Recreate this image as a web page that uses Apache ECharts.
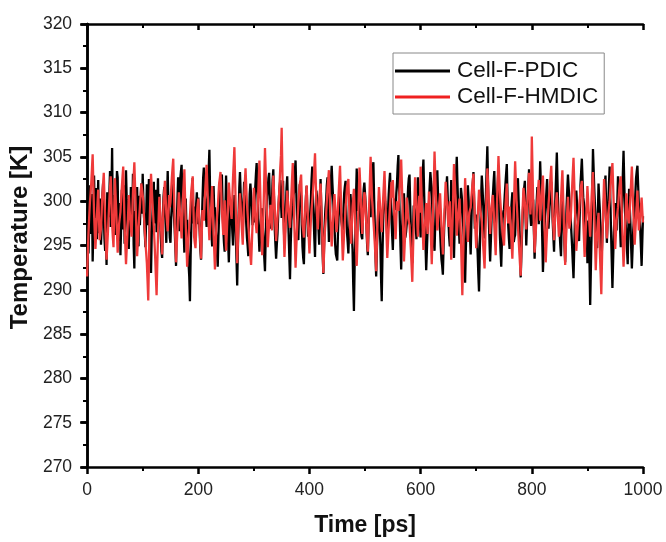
<!DOCTYPE html>
<html>
<head>
<meta charset="utf-8">
<script src="https://cdn.jsdelivr.net/npm/echarts@6/dist/echarts.min.js"></script>
<style>html,body{margin:0;padding:0;background:#fff;}#c{width:666px;height:542px;}</style>
</head>
<body>
<div id="c"></div>
<script>
const seriesNames = ['Cell-F-PDIC', 'Cell-F-HMDIC'];
const timeStep = 2.5; // ps between samples of the "A" arrays; "B" arrays sit half a step later
const xTicks = [0, 200, 400, 600, 800, 1000];
const yTicks = [270, 275, 280, 285, 290, 295, 300, 305, 310, 315, 320];

const pdicA = [
297.5,294.1,301.8,296.3,293.2,302.9,299.6,295.7,302.4,297.8,295.1,300.6,298.7,294.4,292.8,299.3,300.9,297.1,306.0,298.4,
296.2,300.4,302.7,297.5,293.9,301.3,299.1,295.2,303.5,298.8,294.6,297.0,300.2,303.1,292.4,296.8,301.6,294.9,297.3,302.0,
303.1,298.2,294.8,301.9,299.7,295.6,291.9,298.3,302.2,299.0,296.5,302.6,300.8,296.1,293.6,300.5,298.9,295.3,303.4,297.7,
295.3,299.6,301.2,296.9,292.7,300.1,299.8,302.5,304.1,297.6,294.2,300.3,297.9,293.0,288.7,297.2,302.6,299.4,296.1,301.0,
300.4,296.6,293.4,299.9,303.8,300.2,297.1,301.4,305.8,298.0,294.9,301.7,299.3,295.8,292.6,298.6,301.9,303.0,296.8,294.3,
302.9,297.9,293.1,300.0,298.4,295.0,300.7,296.2,290.5,298.1,303.3,299.5,296.4,302.2,299.9,295.9,293.8,300.8,302.1,297.3,
297.6,301.5,304.3,298.9,294.3,297.4,299.2,295.5,292.1,298.7,301.4,303.2,296.9,300.1,303.6,297.0,293.5,296.3,300.3,302.4,
298.1,302.3,294.7,299.0,302.8,296.4,291.2,297.8,299.5,301.1,304.6,298.5,295.6,301.9,300.6,294.8,292.9,298.8,301.7,296.0,
296.3,300.0,303.9,298.3,293.7,301.2,298.6,295.1,302.5,297.0,291.8,297.5,300.1,302.7,295.4,299.8,304.0,300.4,297.2,294.0,
293.3,298.5,301.1,297.7,296.7,300.9,302.3,296.5,294.1,298.2,299.4,294.6,287.6,296.0,303.7,298.9,300.5,296.8,295.7,301.3,
302.0,297.2,293.9,299.7,298.2,301.8,304.4,297.4,291.5,296.9,300.0,295.3,288.7,297.6,301.3,299.1,296.0,300.7,303.2,298.0,
294.5,300.3,299.0,302.1,305.2,297.9,292.3,298.4,300.9,295.9,297.4,301.6,303.0,296.6,293.0,299.5,298.8,295.7,302.7,299.2,
295.9,301.0,304.7,298.1,292.2,296.7,299.8,303.3,301.5,296.4,294.4,299.9,303.5,298.7,296.6,293.4,291.7,297.3,300.2,302.8,
297.8,294.9,302.4,298.6,293.6,300.6,305.0,299.3,295.2,301.5,299.6,296.0,290.8,297.1,301.8,298.4,294.0,300.5,303.3,296.9,
298.5,294.2,289.8,297.5,302.9,299.8,295.8,300.9,306.2,298.3,293.2,297.9,300.7,303.4,297.0,300.1,303.8,296.2,292.6,298.0,
299.1,301.9,304.2,297.3,294.6,298.6,301.0,295.4,296.2,300.8,302.6,297.7,291.4,296.5,300.4,302.3,295.0,299.4,303.6,298.2,
297.3,300.2,293.5,298.0,301.6,297.4,304.5,299.6,292.0,296.3,299.7,302.5,296.9,300.0,302.2,297.8,294.3,300.6,305.5,299.0,
296.5,293.8,300.8,297.2,293.1,299.4,303.0,300.3,298.0,294.9,291.3,297.6,301.2,298.5,295.5,301.8,304.8,300.4,299.2,295.6,
293.0,297.9,288.3,296.1,305.9,301.1,297.6,294.7,302.0,298.8,292.5,297.0,300.3,302.9,295.3,299.7,303.9,296.6,290.2,296.4,
299.8,296.7,302.8,299.3,294.8,300.2,305.7,298.9,296.4,292.9,301.4,297.2,292.4,296.8,299.0,302.6,304.0,299.6,297.0,292.7,
298.3
];
const pdicB = [
299.2,297.0,298.5,300.8,296.9,298.1,301.5,299.0,296.4,300.3,297.3,302.0,295.8,296.9,301.0,298.2,303.4,300.6,297.9,300.7,
298.9,303.4,295.5,299.8,297.2,296.8,301.8,297.6,300.2,296.2,299.4,301.6,297.8,295.1,298.9,299.5,296.3,300.6,299.9,298.6,
300.1,296.4,298.0,297.3,302.5,293.8,296.2,300.6,297.5,301.3,299.4,297.8,298.2,294.3,297.9,301.6,297.4,300.2,299.8,295.9,
298.1,302.4,298.3,294.8,297.1,302.7,296.6,303.3,300.4,296.5,298.0,296.9,295.4,291.5,293.9,300.8,297.5,298.2,299.7,297.4,
298.3,294.5,297.2,302.6,301.2,298.4,299.6,303.6,301.0,296.4,298.7,298.9,297.0,294.1,296.0,300.9,302.7,299.4,295.3,298.6,
299.7,295.3,296.4,299.3,296.6,298.2,298.9,293.4,294.7,301.5,300.9,297.8,299.7,301.1,297.5,295.0,297.6,302.0,299.4,299.0,
300.0,303.1,301.2,296.3,296.0,298.8,296.9,293.6,296.0,300.5,302.6,299.7,298.9,302.4,300.0,295.2,295.1,298.4,301.6,299.9,
300.6,297.9,297.3,301.5,299.5,293.7,295.0,298.8,300.7,303.3,301.2,297.0,299.2,301.0,297.3,293.6,296.3,300.6,298.5,296.8,
298.6,302.4,300.6,295.8,297.8,300.3,296.9,299.3,299.4,294.0,294.8,299.2,301.8,298.6,297.9,302.5,302.0,298.5,295.1,293.9,
296.3,300.2,299.0,297.1,299.1,301.7,299.0,295.4,296.5,300.8,296.4,290.6,292.8,300.4,301.0,299.8,298.4,296.0,298.9,302.1,
299.5,295.1,297.0,299.0,300.6,303.5,300.5,293.9,294.4,298.8,297.2,291.4,293.6,299.8,300.0,297.4,298.6,302.1,300.4,296.2,
297.7,299.8,300.9,304.0,301.2,294.9,295.6,299.9,297.8,296.5,299.7,302.6,299.6,294.6,296.6,299.2,297.1,299.6,301.1,297.3,
298.7,303.2,301.0,295.1,294.4,298.4,301.7,302.2,298.6,295.3,297.4,302.1,300.9,297.5,294.8,292.7,294.8,299.0,301.6,300.4,
296.0,298.6,300.4,296.0,297.3,303.0,302.0,297.1,298.3,300.7,297.6,293.2,294.4,299.6,300.2,296.1,297.4,302.0,300.0,298.1,
296.2,291.8,293.9,300.3,301.5,297.6,298.4,303.6,302.1,295.6,295.4,299.5,302.2,300.1,298.6,302.1,299.9,294.3,295.5,298.8,
300.6,303.1,300.6,295.8,296.7,299.9,298.1,295.9,298.6,301.8,300.1,294.4,294.0,298.6,301.5,298.7,297.3,301.6,300.8,297.2,
298.8,296.6,295.9,300.0,299.6,301.0,302.0,295.8,294.2,298.2,301.1,299.5,298.6,301.2,299.9,296.0,297.6,303.0,302.1,297.8,
295.0,297.4,299.0,295.1,296.3,301.3,301.6,299.1,296.4,293.0,294.5,299.6,299.8,296.9,298.7,303.3,302.5,299.8,297.3,297.8,
295.4,293.1,292.4,301.0,303.5,299.3,295.9,298.5,300.3,295.6,294.8,298.7,301.6,299.0,297.6,301.8,300.1,293.4,293.3,298.2,
298.2,299.8,301.0,296.9,297.6,303.0,302.2,297.6,294.5,297.2,299.3,294.7,294.6,297.9,300.8,303.4,301.8,298.2,294.8,295.5
];

const hmdicA = [
291.5,296.4,299.8,302.1,305.3,298.7,294.6,298.2,301.3,295.6,296.9,300.8,303.2,297.7,293.4,296.5,300.1,302.8,297.5,294.8,
302.6,298.9,294.2,297.4,298.8,301.6,303.9,297.1,292.9,296.3,300.7,298.0,296.0,300.9,304.4,299.2,293.8,297.0,299.4,302.0,
301.9,298.1,295.3,293.0,288.8,297.6,303.1,300.0,297.2,293.6,289.4,296.1,300.5,297.8,294.0,299.6,302.3,298.7,296.6,300.7,
299.9,302.7,304.8,297.9,293.1,296.8,301.0,298.5,295.8,300.4,303.6,297.3,292.6,295.9,298.3,301.2,302.8,296.0,294.7,298.6,
300.3,296.9,293.5,299.0,297.8,301.3,304.1,299.5,295.6,298.4,301.7,296.4,292.3,297.1,299.2,302.0,303.3,298.8,296.2,300.1,
294.4,298.3,302.1,299.7,298.0,302.6,306.1,299.1,293.0,297.7,300.9,297.9,295.1,300.5,303.7,299.8,297.4,294.9,292.8,297.2,
301.5,298.2,296.4,300.3,304.6,298.6,293.9,299.4,306.0,300.6,294.8,297.5,299.6,296.7,302.9,299.3,295.5,298.1,300.2,303.8,
308.3,299.2,293.7,297.6,301.2,298.9,297.0,300.8,304.3,298.0,292.5,296.6,299.7,301.9,303.0,297.4,295.9,299.0,301.8,297.3,
294.1,297.8,300.0,302.3,305.4,299.6,296.8,300.2,302.0,297.2,291.9,296.3,298.5,301.5,303.5,298.4,294.9,297.9,300.8,298.0,
297.6,300.9,304.0,298.2,293.3,296.6,299.1,301.6,302.5,297.5,295.2,299.3,301.4,296.9,292.7,297.8,303.8,300.1,296.3,299.5,
300.6,297.0,294.3,299.8,305.0,300.4,297.9,295.2,292.1,297.7,301.6,299.0,296.5,300.2,303.4,298.3,293.6,296.9,299.5,302.2,
302.4,298.6,295.7,300.0,298.9,301.8,304.7,299.4,293.2,296.7,300.4,298.1,297.3,294.5,290.9,297.4,302.7,299.7,296.0,300.6,
303.9,299.1,294.5,297.2,299.8,296.3,301.1,298.0,292.9,299.0,305.6,300.5,296.7,298.8,300.9,297.1,294.0,298.2,302.2,299.6,
297.1,300.0,293.4,297.9,304.2,300.8,296.1,298.5,300.3,295.8,289.4,296.4,302.6,299.2,295.4,298.7,299.3,301.4,303.1,298.1,
294.7,298.0,301.3,299.0,297.7,295.0,292.4,298.6,303.7,300.2,296.3,299.4,300.7,297.3,293.9,299.9,305.1,301.0,298.4,296.2,
295.0,299.3,302.0,297.5,299.4,296.6,293.5,298.9,304.5,300.1,297.2,294.3,291.6,297.6,301.5,299.8,296.8,300.3,303.2,298.5,
307.3,299.8,294.2,297.0,300.1,302.4,297.8,300.5,302.9,297.6,293.1,296.8,299.6,301.7,304.0,298.3,295.6,298.9,301.0,297.4,
296.6,300.2,303.5,298.0,292.8,297.3,300.5,296.9,298.1,301.6,304.9,299.5,294.4,297.0,299.0,301.3,302.3,297.8,293.7,297.5,
301.7,298.6,296.0,300.4,303.3,298.2,292.2,296.5,298.7,294.1,289.5,297.0,302.5,299.1,295.8,298.6,300.0,302.6,304.3,299.3,
294.6,297.9,299.3,301.5,302.8,297.4,292.6,296.2,300.9,298.3,297.5,300.6,303.9,299.0,295.1,298.1,301.2,296.7,298.2,300.4,
297.6
];
const hmdicB = [
294.0,298.2,300.9,303.7,301.9,296.5,296.4,299.8,298.4,296.3,298.8,302.0,300.4,295.5,294.9,298.3,301.5,300.1,296.0,298.7,
300.7,296.4,295.8,298.1,300.3,302.8,300.4,295.0,294.6,298.5,299.3,297.0,298.4,302.7,301.8,296.5,295.4,298.2,300.7,302.1,
300.0,296.7,294.2,291.0,293.2,300.4,301.5,298.6,295.4,291.5,292.8,298.3,299.1,296.0,296.8,301.0,300.5,297.6,298.6,299.3,
301.3,303.8,301.3,295.5,295.0,298.9,299.7,297.2,298.1,302.0,300.4,295.0,294.3,297.1,299.8,302.0,299.4,295.3,296.7,299.5,
298.6,295.2,296.3,298.4,299.6,302.7,301.8,297.5,297.0,300.0,299.0,294.4,294.7,298.2,300.6,302.6,301.0,297.5,298.2,297.3,
296.3,300.2,300.9,298.8,300.3,304.3,302.6,296.0,295.3,299.3,299.4,296.5,297.8,302.1,301.7,298.6,296.2,293.8,295.0,299.3,
299.9,297.3,298.4,302.5,301.6,296.3,296.7,302.7,303.3,297.7,296.2,298.6,298.1,299.8,301.1,297.4,296.8,299.2,302.0,305.2,
303.7,296.5,295.6,299.4,300.0,297.9,298.9,302.6,301.1,295.3,294.6,298.2,300.8,302.4,300.2,296.7,297.5,300.4,299.5,295.8,
296.0,299.0,301.1,303.8,302.5,298.2,298.5,301.1,299.6,294.6,294.1,297.4,300.0,302.5,301.0,296.7,296.4,299.4,299.4,296.5,
299.3,302.5,301.1,295.8,294.9,297.8,300.4,302.0,299.9,296.4,297.3,300.4,299.1,294.8,295.3,300.8,302.0,298.2,297.9,301.0,
298.8,295.6,297.1,302.4,302.7,299.1,296.6,293.7,294.9,299.6,300.3,297.8,298.4,301.8,300.9,296.0,295.3,298.2,300.8,300.4,
300.5,297.2,297.9,299.4,300.4,303.3,302.0,296.3,295.0,298.6,299.3,297.7,295.9,292.7,294.2,300.1,301.2,297.9,298.3,298.7,
301.5,296.8,295.9,298.5,298.1,298.7,299.6,295.5,296.0,302.3,303.0,298.6,297.8,299.9,299.0,295.6,296.1,300.2,300.9,298.4,
298.6,296.7,295.7,301.1,302.5,298.5,297.3,299.4,298.0,292.6,292.9,299.5,300.9,297.3,297.1,299.0,300.4,302.3,300.6,296.4,
296.4,299.7,300.2,298.4,296.3,293.7,295.5,301.2,302.0,298.3,297.8,300.1,299.0,295.6,296.9,302.5,303.0,299.7,297.3,295.6,
297.2,300.7,299.8,298.5,298.0,295.1,296.2,301.7,302.3,298.7,295.8,292.9,294.6,299.6,300.7,298.3,298.6,301.8,300.9,301.1,
303.5,297.0,295.6,298.6,301.3,300.1,299.2,301.7,300.3,295.4,295.0,298.2,300.7,302.9,301.2,297.0,297.3,300.0,299.2,296.0,
298.4,301.9,300.8,295.4,295.1,298.9,298.7,297.5,299.9,303.3,302.2,297.0,295.7,298.0,300.2,301.8,300.1,295.8,295.6,299.6,
300.2,297.3,298.2,301.9,300.8,295.2,294.4,297.6,296.4,291.8,293.3,299.8,300.8,297.5,297.2,299.3,301.3,303.5,301.8,296.9,
296.3,298.6,300.4,302.2,300.1,295.0,294.4,298.6,299.6,297.9,299.1,302.3,301.5,297.1,296.6,299.7,298.7,297.5,299.3,298.9
];

function toPairs(a, b) {
  const out = [];
  for (let i = 0; i < a.length; i++) {
    out.push([i * timeStep, a[i]]);
    if (i < b.length) out.push([i * timeStep + timeStep / 2, b[i]]);
  }
  return out;
}

const chart = echarts.init(document.getElementById('c'), null, {renderer: 'canvas'});
const FONT = 'Liberation Sans, Arial, sans-serif';
const labelFont = {fontFamily: FONT, fontSize: 17.5, color: '#222'};
const axisLine = {show: true, lineStyle: {color: '#000', width: 2.5}};
const fmt = v => String(v);

chart.setOption({
  animation: false,
  backgroundColor: '#fff',
  grid: {left: 86, right: 23, top: 24, bottom: 72, containLabel: false},
  legend: {
    orient: 'vertical',
    left: 393, top: 53,
    padding: [6, 6, 5, 2],
    borderColor: '#888', borderWidth: 1,
    itemWidth: 55, itemHeight: 3, itemGap: 2,
    icon: 'rect',
    textStyle: {fontFamily: FONT, fontSize: 22.5, color: '#111', lineHeight: 24, padding: [0, 0, 0, 2]},
    data: seriesNames
  },
  xAxis: [{
    type: 'value', min: xTicks[0], max: xTicks[xTicks.length - 1], interval: 200,
    name: 'Time [ps]', nameLocation: 'middle', nameGap: 47,
    nameTextStyle: {fontFamily: FONT, fontSize: 23, fontWeight: 'bold', color: '#111'},
    axisLine: axisLine,
    axisTick: {show: true, inside: false, length: 7, lineStyle: {color: '#000', width: 2.5}},
    minorTick: {show: true, splitNumber: 2, length: 4, lineStyle: {color: '#000', width: 2}},
    axisLabel: Object.assign({margin: 14, formatter: fmt}, labelFont),
    splitLine: {show: false}
  }, {
    type: 'value', position: 'top', min: 0, max: 1000, interval: 200,
    axisLine: axisLine,
    axisTick: {show: true, inside: true, length: 6, lineStyle: {color: '#000', width: 2.5}},
    minorTick: {show: true, splitNumber: 2, length: 4, lineStyle: {color: '#000', width: 2}},
    axisLabel: {show: false}, splitLine: {show: false}
  }],
  yAxis: [{
    type: 'value', min: yTicks[0], max: yTicks[yTicks.length - 1], interval: 5,
    name: 'Temperature [K]', nameLocation: 'middle', nameGap: 43, nameRotate: 90,
    nameTextStyle: {fontFamily: FONT, fontSize: 24, fontWeight: 'bold', color: '#111', padding: [0, 0, 0, 16]},
    axisLine: axisLine,
    axisTick: {show: true, inside: false, length: 7, lineStyle: {color: '#000', width: 2.5}},
    minorTick: {show: true, splitNumber: 2, length: 4, lineStyle: {color: '#000', width: 2}},
    axisLabel: Object.assign({margin: 15, formatter: fmt}, labelFont),
    splitLine: {show: false}
  }, {
    type: 'value', position: 'right', min: 270, max: 320, interval: 5,
    axisLine: axisLine,
    axisTick: {show: true, inside: true, length: 6, lineStyle: {color: '#000', width: 2.5}},
    minorTick: {show: true, splitNumber: 2, length: 4, lineStyle: {color: '#000', width: 2}},
    axisLabel: {show: false}, splitLine: {show: false}
  }],
  series: [{
    name: seriesNames[0], type: 'line', data: toPairs(pdicA, pdicB),
    showSymbol: false, symbol: 'none',
    lineStyle: {color: '#000', width: 2.3}, itemStyle: {color: '#000'}, z: 2
  }, {
    name: seriesNames[1], type: 'line', data: toPairs(hmdicA, hmdicB),
    showSymbol: false, symbol: 'none',
    lineStyle: {color: '#ef3a3a', width: 2.3}, itemStyle: {color: '#ef2020'}, z: 3
  }]
});
</script>
</body>
</html>
